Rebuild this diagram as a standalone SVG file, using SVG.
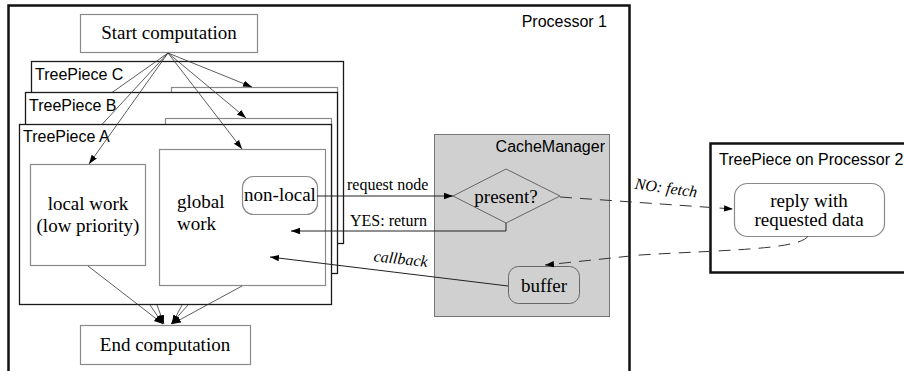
<svg xmlns="http://www.w3.org/2000/svg" width="904" height="371" viewBox="0 0 904 371">
<defs>
<marker id="ah" markerWidth="10" markerHeight="8" refX="9" refY="4" orient="auto" markerUnits="userSpaceOnUse">
<path d="M0,0.8 L9,4 L0,7.2 Z" fill="#000"/>
</marker>
<style>
.tp{fill:#fff;stroke:#1a1a1a;stroke-width:1.3}
.gb{fill:#fff;stroke:#8a8a8a;stroke-width:1.2}
.ln{fill:none;stroke:#333;stroke-width:0.8}
.lk{fill:none;stroke:#222;stroke-width:1}
.ds{fill:none;stroke:#333;stroke-width:1;stroke-dasharray:12 8}
.sans{font-family:"Liberation Sans",Arial,sans-serif;font-size:16px;fill:#000}
.ser{font-family:"Liberation Serif","Times New Roman",serif;font-size:19px;fill:#000}
.sm{font-family:"Liberation Serif","Times New Roman",serif;font-size:16px;fill:#000}
</style>
</defs>
<rect x="0" y="0" width="904" height="371" fill="#fff"/>
<g id="processor1">
<rect x="8.5" y="5.5" width="621" height="380" fill="#fff" stroke="#111" stroke-width="2.5"/>
<text class="sans" x="607" y="27" text-anchor="end" font-size="15">Processor 1</text>
</g>
<g id="start">
<rect class="gb" x="80.5" y="14.5" width="177" height="38"/>
<text class="ser" x="169" y="39" text-anchor="middle">Start computation</text>
</g>
<g id="treepieceC">
<rect class="tp" x="31.5" y="61.5" width="312" height="182"/>
<text class="sans" x="35" y="80">TreePiece C</text>
<rect class="gb" x="171.5" y="87.5" width="166" height="136"/>
</g>
<g class="connectors-c">
<line class="ln" x1="168" y1="53" x2="100" y2="101"/>
<line class="ln" x1="168" y1="53" x2="252" y2="87" marker-end="url(#ah)"/>
</g>
<g id="treepieceB">
<rect class="tp" x="25.5" y="92.5" width="312" height="181"/>
<text class="sans" x="29" y="111">TreePiece B</text>
<rect class="gb" x="165.5" y="118.5" width="166" height="136"/>
</g>
<g class="connectors-b">
<line class="ln" x1="168" y1="53" x2="95" y2="132"/>
<line class="ln" x1="168" y1="53" x2="246" y2="118" marker-end="url(#ah)"/>
</g>
<g id="treepieceA">
<rect class="tp" x="19.5" y="124.5" width="312" height="180"/>
<text class="sans" x="23" y="142">TreePiece A</text>
</g>
<g id="localwork">
<rect class="gb" x="30.5" y="164.5" width="115" height="101"/>
<text class="ser" x="88" y="210" text-anchor="middle">local work</text>
<text class="ser" x="88" y="232" text-anchor="middle">(low priority)</text>
</g>
<g id="globalwork">
<rect class="gb" x="159.5" y="149.5" width="166" height="136"/>
<text class="ser" x="177" y="208">global</text>
<text class="ser" x="177" y="230">work</text>
</g>
<g id="nonlocal">
<rect class="gb" x="242.5" y="176.5" width="75" height="38" rx="11"/>
<text class="ser" x="280" y="201" text-anchor="middle">non-local</text>
</g>
<g id="end">
<rect class="gb" x="80.5" y="325.5" width="170" height="39"/>
<text class="ser" x="165" y="351" text-anchor="middle">End computation</text>
</g>
<g id="cachemanager">
<rect x="434.5" y="134.5" width="175" height="182" fill="#d0d0d0" stroke="#777" stroke-width="1"/>
<text class="sans" x="605" y="152" text-anchor="end">CacheManager</text>
</g>
<g id="present">
<polygon points="453,196 506,169 560,196 506,223" fill="#d0d0d0" stroke="#666" stroke-width="1"/>
<text class="ser" x="506" y="203" text-anchor="middle" font-size="18.5">present?</text>
</g>
<g id="buffer">
<rect x="508.5" y="266.5" width="71" height="37" rx="10" fill="#d0d0d0" stroke="#666" stroke-width="1"/>
<text class="ser" x="544" y="292" text-anchor="middle">buffer</text>
</g>
<g id="processor2">
<rect x="710.5" y="143.5" width="210" height="129" fill="#fff" stroke="#111" stroke-width="2.5"/>
<text class="sans" x="719" y="165">TreePiece on Processor 2</text>
</g>
<g id="reply">
<rect class="gb" x="734.5" y="183.5" width="150" height="53" rx="13"/>
<text class="ser" x="809" y="207" text-anchor="middle">reply with</text>
<text class="ser" x="809" y="226" text-anchor="middle">requested data</text>
</g>
<g id="connectors">
<line class="ln" x1="168" y1="53" x2="89" y2="164" marker-end="url(#ah)"/>
<line class="ln" x1="168" y1="53" x2="242" y2="149" marker-end="url(#ah)"/>
<line class="ln" x1="88" y1="266" x2="163" y2="324" marker-end="url(#ah)"/>
<line class="ln" x1="242" y1="286" x2="172" y2="324" marker-end="url(#ah)"/>
<line class="ln" x1="150" y1="305" x2="163" y2="324" marker-end="url(#ah)"/>
<line class="ln" x1="157" y1="305" x2="164" y2="324" marker-end="url(#ah)"/>
<line class="ln" x1="182" y1="305" x2="172" y2="324" marker-end="url(#ah)"/>
<line class="ln" x1="188" y1="305" x2="171" y2="324" marker-end="url(#ah)"/>
<line class="lk" x1="317" y1="196" x2="453" y2="196" marker-end="url(#ah)"/>
<text class="sm" x="347" y="190">request node</text>
<polyline class="lk" points="506,223 506,231 291,231" marker-end="url(#ah)"/>
<text class="sm" x="350" y="226">YES: return</text>
<line class="lk" x1="508" y1="286" x2="270" y2="257" marker-end="url(#ah)"/>
<text class="sm" x="373" y="264" font-style="italic" transform="rotate(6 399 264)">callback</text>
<path class="ds" d="M560,197 L733,209" marker-end="url(#ah)"/>
<text class="sm" x="634" y="193" font-style="italic" transform="rotate(8 665 193)">NO: fetch</text>
<path class="ds" d="M808,236 C800,250 720,250 640,255 L545,265" marker-end="url(#ah)"/>
</g>
</svg>
